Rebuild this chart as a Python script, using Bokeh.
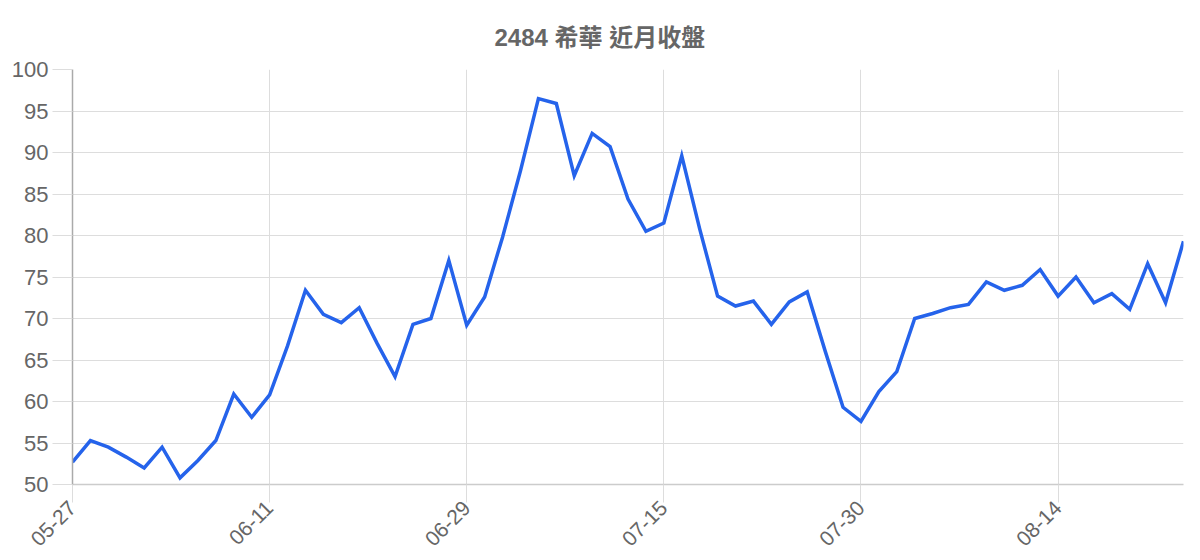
import math
from bokeh.plotting import figure
from bokeh.models import FixedTicker, Range1d
from bokeh.embed import file_html
from bokeh.resources import INLINE

# closing prices, one per trading day
close = [52.7, 55.3, 54.5, 53.3, 52.0, 54.5, 50.8, 52.9, 55.3, 60.9,
         58.1, 60.8, 66.7, 73.4, 70.5, 69.5, 71.3, 67.0, 63.0, 69.3,
         70.0, 77.0, 69.2, 72.6, 79.8, 87.8, 96.5, 95.9, 87.2, 92.3,
         90.7, 84.4, 80.5, 81.5, 89.6, 80.8, 72.7, 71.5, 72.1, 69.3,
         72.0, 73.2, 66.1, 59.3, 57.6, 61.2, 63.6, 70.0, 70.6, 71.3,
         71.7, 74.4, 73.4, 74.0, 75.9, 72.7, 75.0, 71.9, 73.0, 71.1,
         76.6, 71.9, 79.3]
tick_labels = ["05-27", "06-11", "06-29", "07-15", "07-30", "08-14"]
tick_index = [0, 11, 22, 33, 44, 55]
y_ticks = [50, 55, 60, 65, 70, 75, 80, 85, 90, 95, 100]
title_text = "2484 希華 近月收盤"

x = list(range(len(close)))

FONT = "Liberation Sans"
GRID = "#dddddd"
TEXT = "#666666"

p = figure(width=1200, height=560, output_backend="svg", toolbar_location=None,
           x_range=Range1d(0, len(close) - 1), y_range=Range1d(50, 100),
           min_border_left=72, min_border_right=17, min_border_top=69,
           min_border_bottom=76)

p.title.text = title_text
p.title.align = "left"
p.title.offset = 422
p.title.text_font = "Liberation Sans, Noto Sans CJK TC"
p.title.text_font_size = "24px"
p.title.text_font_style = "bold"
p.title.text_color = TEXT
p.title.standoff = 37

p.outline_line_color = None
p.background_fill_color = "white"
p.border_fill_color = "white"

# x axis
p.xaxis.ticker = FixedTicker(ticks=tick_index)
p.xaxis.major_label_overrides = {i: l for i, l in zip(tick_index, tick_labels)}
p.xaxis.major_label_orientation = math.pi / 4
p.xaxis.major_tick_out = 18
p.xaxis.major_tick_in = 0
p.xaxis.major_tick_line_color = GRID
p.xaxis.minor_tick_line_color = None
p.xaxis.axis_line_color = "#cccccc"
p.xaxis.axis_line_width = 1.5
p.xaxis.major_label_text_font = FONT
p.xaxis.major_label_text_font_size = "21px"
p.xaxis.major_label_text_color = TEXT
p.xaxis.major_label_standoff = 2

# y axis
p.yaxis.ticker = FixedTicker(ticks=y_ticks)
p.yaxis.major_tick_out = 20
p.yaxis.major_tick_in = 0
p.yaxis.major_tick_line_color = GRID
p.yaxis.minor_tick_line_color = None
p.yaxis.axis_line_color = "#aaaaaa"
p.yaxis.axis_line_width = 1.5
p.yaxis.major_label_text_font = FONT
p.yaxis.major_label_text_font_size = "22px"
p.yaxis.major_label_text_color = TEXT
p.yaxis.major_label_standoff = 4

p.xgrid.grid_line_color = GRID
p.ygrid.grid_line_color = GRID
p.xgrid.ticker = FixedTicker(ticks=tick_index)
p.ygrid.ticker = FixedTicker(ticks=y_ticks)

p.line(x, close, line_color="#2563eb", line_width=3.5, line_join="miter")

open("out.html", "w").write(file_html(p, INLINE))
